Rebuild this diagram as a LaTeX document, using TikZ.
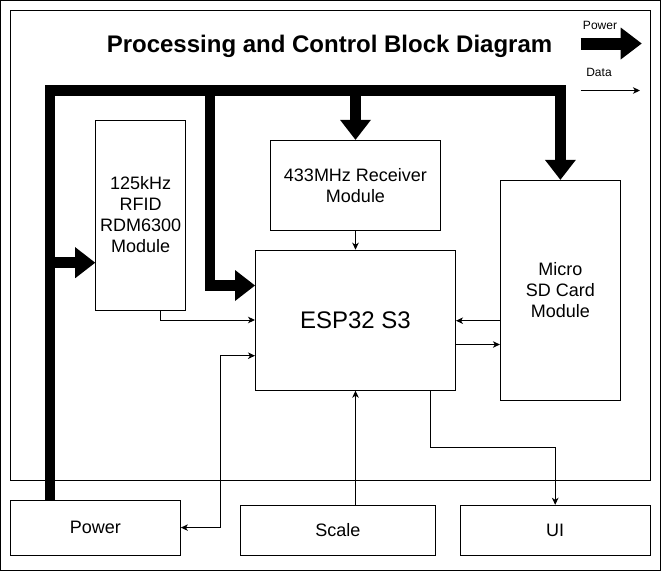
\documentclass[tikz,border=0pt]{standalone}
\usepackage{fontspec}
\setmainfont{Liberation Sans}
\usetikzlibrary{arrows.meta,calc}
\begin{document}
\begin{tikzpicture}[x=1pt,y=-1pt,
  >={Stealth[length=7pt,width=6.5pt,inset=2pt]},
  box/.style={draw, line width=1pt, inner sep=0pt, align=center,
    font=\fontsize{18}{21}\selectfont},
  bus/.style={line width=10.5pt, line join=miter, line cap=butt},
  pwarrow/.style={-{Triangle[length=20pt,width=31pt,line width=0pt]}},
  data/.style={line width=1pt},
  legend/.style={font=\fontsize{12}{14}\selectfont, inner sep=0pt}]
\useasboundingbox (0,0) rectangle (662,571);
% frames
\draw[line width=1pt] (0.5,0.5) rectangle (660,570.3);
\draw[line width=1pt] (10.5,10.7) rectangle (650.5,480.3);
% title and legend
\node[font=\bfseries\fontsize{24}{28}\selectfont, anchor=base, inner sep=0pt] (title) at (329.5,52) {Processing and Control Block Diagram};
\node[legend] (lgP) at (600,25) {Power};
\node[legend] (lgD) at (599,72.7) {Data};
\coordinate (lp1) at (580.7,43.5);
\coordinate (lp2) at (641.7,43.5);
\draw[line width=12pt, -{Triangle[length=21pt,width=32pt,line width=0pt]}] (lp1) -- (lp2);
\coordinate (ld1) at (580.7,90.5);
\coordinate (ld2) at (640,90.5);
\draw[data,->] (ld1) -- (ld2);
% boxes
\node[box, minimum width=90pt, minimum height=190pt] (rfid) at (140.7,215) {125kHz\\RFID\\RDM6300\\Module};
\node[box, minimum width=170pt, minimum height=90pt] (rx) at (355.5,185.3) {433MHz Receiver\\Module};
\node[box, minimum width=200pt, minimum height=140pt, font=\fontsize{24}{28}\selectfont] (esp) at (355.5,320.2) {ESP32 S3};
\node[box, minimum width=120pt, minimum height=220pt] (sd) at (560.4,290.3) {Micro\\SD Card\\Module};
\node[box, minimum width=170pt, minimum height=55pt] (pwr) at (95.4,527.6) {Power};
\node[box, minimum width=195pt, minimum height=50pt] (scale) at (337.8,530.3) {Scale};
\node[box, minimum width=190pt, minimum height=50pt] (ui) at (555.2,530.3) {UI};
% power bus
\coordinate (bTL) at (50,90.5);
\coordinate (bTR) at (sd.north |- bTL);
\draw[bus, pwarrow] (pwr.north -| bTL) -- (bTL) -- (bTR) -- (sd.north);
\coordinate (bE) at (210,285.5);
\draw[bus, pwarrow] (bTL -| bE) -- (bE) -- (esp.west |- bE);
\draw[bus, pwarrow] (bTL -| rx.north) -- (rx.north);
\coordinate (bR) at (50,262.7);
\draw[bus, pwarrow] (bR) -- (rfid.west |- bR);
% data lines
\draw[data,->] (rx.south) -- (esp.north);
\draw[data,->] ([xshift=20pt]rfid.south) |- (esp.west |- 0,320);
\draw[data,->] (sd.west |- 0,320.7) -- (esp.east |- 0,320.7);
\draw[data,->] (esp.east |- 0,344.5) -- (sd.west |- 0,344.5);
\coordinate (pk) at (220.3,355.7);
\draw[data,<->] (pwr.east) -| (pk) -- (esp.west |- pk);
\draw[data,->] (scale.north -| esp.south) -- (esp.south);
\coordinate (uk) at (430.7,447.3);
\draw[data,->] (esp.south -| uk) -- (uk) -| (ui.north);
\end{tikzpicture}
\end{document}
